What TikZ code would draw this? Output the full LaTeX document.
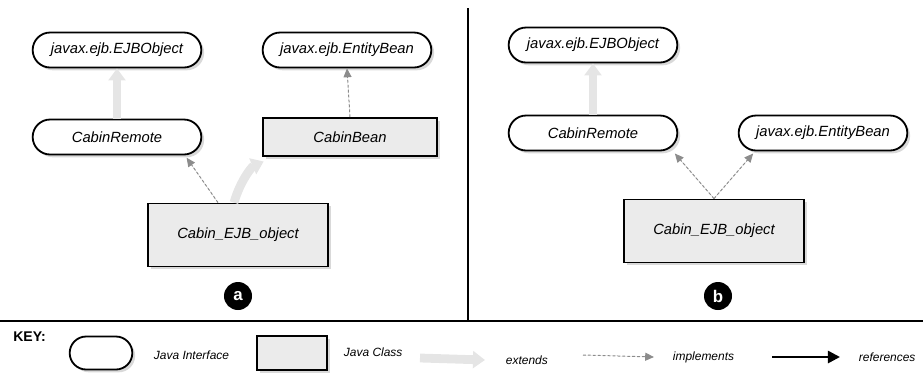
\documentclass[tikz,border=0pt]{standalone}
\usepackage{fontspec}
\setmainfont{Liberation Sans}
\usetikzlibrary{arrows.meta,shapes.misc,shadows}

\begin{document}
\begin{tikzpicture}[x=0.025cm,y=-0.025cm,
  boxshadow/.style={drop shadow={opacity=.3,shadow xshift=2pt,shadow yshift=-2pt}},
  iface/.style={rounded rectangle,draw,line width=1.3pt,fill=white,boxshadow,minimum width=4.45cm,minimum height=0.875cm,font=\itshape\fontsize{10.5}{12}\selectfont},
  jclass/.style={rectangle,draw,line width=1.3pt,fill=black!8,boxshadow,font=\itshape\fontsize{10.5}{12}\selectfont},
  extarrow/.style={line width=0.22cm,draw=black!10,-{Triangle[length=0.3cm,width=0.42cm]}},
  implarrow/.style={draw=black!45,fill=black!45,line width=0.7pt,dash pattern=on 2pt off 1.5pt,-{Triangle[length=2.2mm,width=2mm]}},
  refarrow/.style={line width=1.8pt,-{Triangle[length=3mm,width=3mm]}},
  keytext/.style={anchor=west,font=\itshape\fontsize{8.5}{10}\selectfont},
  tag/.style={circle,fill=black,text=white,inner sep=0pt,minimum size=0.7cm,font=\bfseries\large}]
\useasboundingbox (0,0) rectangle (923,378);

\node[iface] (objA) at (117,50) {javax.ejb.EJBObject};
\node[iface] (entA) at (347,50) {javax.ejb.EntityBean};
\node[iface] (remA) at (117,137) {CabinRemote};
\node[jclass,minimum width=4.35cm,minimum height=0.95cm] (beanA) at (350,137) {CabinBean};
\node[jclass,minimum width=4.5cm,minimum height=1.575cm] (ejbA) at (238,235) {Cabin\_EJB\_object};
\node[tag] (a) at (238,296) {a};
\draw[extarrow] (remA.north) -- (objA.south);
\draw[implarrow] (beanA.north) -- (entA.south);
\draw[implarrow,shorten >=2pt] ([xshift=-0.5cm]ejbA.north) -- ([xshift=1.7cm]remA.south);
\draw[extarrow,shorten >=8pt] ([xshift=-0.1cm]ejbA.north) to[bend left=25] ([xshift=-1.9cm]beanA.south);

\node[iface] (objB) at (593,45) {javax.ejb.EJBObject};
\node[iface] (remB) at (593,133) {CabinRemote};
\node[iface] (entB) at (823,133) {javax.ejb.EntityBean};
\node[jclass,minimum width=4.5cm,minimum height=1.575cm] (ejbB) at (714,231) {Cabin\_EJB\_object};
\node[tag] (b) at (718,296) {b};
\draw[extarrow] (remB.north) -- (objB.south);
\draw[implarrow,shorten >=2pt] (ejbB.north) -- ([xshift=2cm]remB.south);
\draw[implarrow,shorten >=2pt] (ejbB.north) -- ([xshift=-1.7cm]entB.south);

\draw[line width=1.4pt] (0,321) -- (923,321);
\draw[line width=1.4pt] (468,8) -- (468,321);

\node[anchor=west,font=\bfseries\fontsize{10}{12}\selectfont,inner sep=0pt] (key) at (13,337) {KEY:};
\node[iface,minimum width=1.8cm,minimum height=0.825cm] (kif) at (101,353) {};
\node[keytext] (kift) at (149,355) {Java Interface};
\node[jclass,minimum width=1.75cm,minimum height=0.85cm] (kcl) at (292,353) {};
\node[keytext] (kclt) at (339,352) {Java Class};
\coordinate (kext0) at (420,358);
\node[keytext] (kext) at (501,360) {extends};
\draw[extarrow] (kext0) -- ([xshift=-0.4cm]kext.west);
\coordinate (kimp0) at (583,355);
\node[keytext] (kimp) at (668,357) {implements};
\draw[implarrow] (kimp0) -- ([xshift=-0.35cm]kimp.west);
\coordinate (kref0) at (772,357);
\node[keytext] (kref) at (854,357) {references};
\draw[refarrow] (kref0) -- ([xshift=-0.35cm]kref.west);
\end{tikzpicture}
\end{document}
